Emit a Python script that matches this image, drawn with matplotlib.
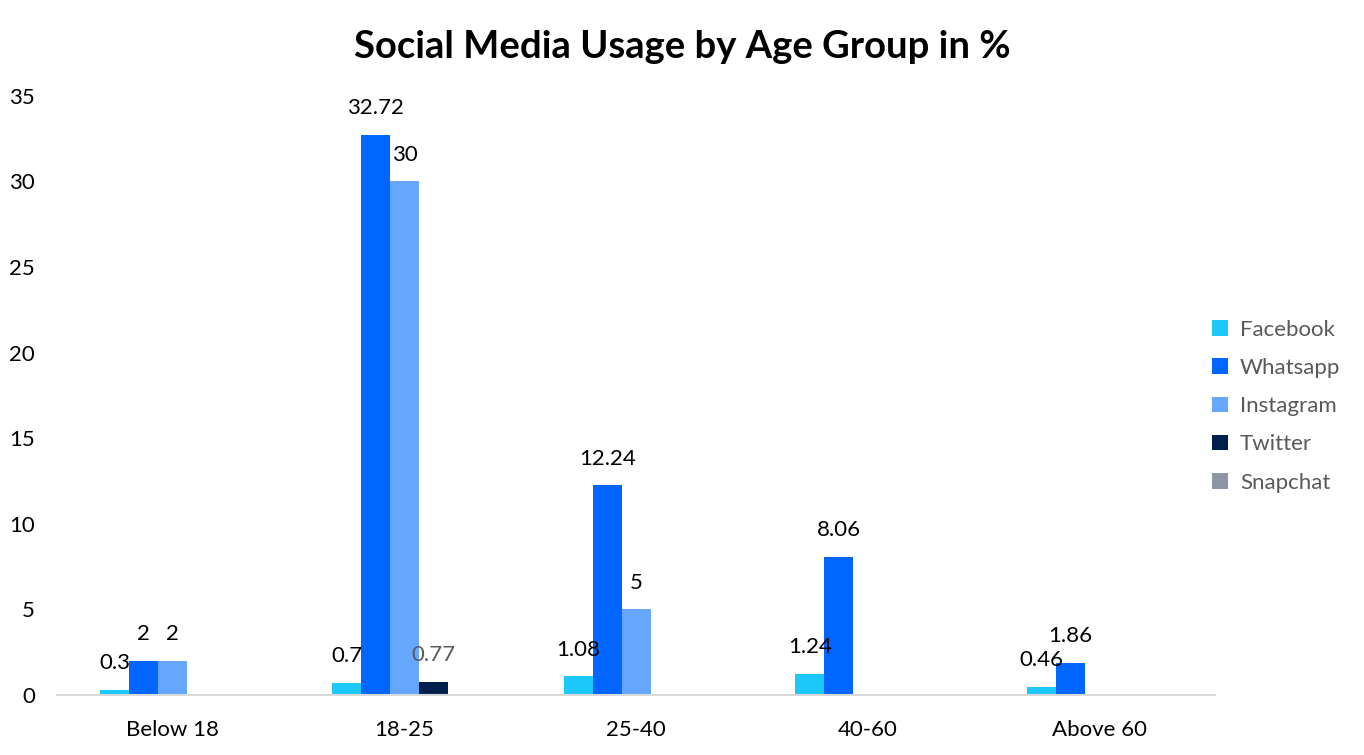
import matplotlib
matplotlib.use("Agg")
import matplotlib.pyplot as plt
import numpy as np

categories = ["Below 18", "18-25", "25-40", "40-60", "Above 60"]
series = ["Facebook", "Whatsapp", "Instagram", "Twitter", "Snapchat"]
facebook = [0.3, 0.7, 1.08, 1.24, 0.46]
whatsapp = [2, 32.72, 12.24, 8.06, 1.86]
instagram = [2, 30, 5, 0, 0]
twitter = [0, 0.77, 0, 0, 0]
snapchat = [0, 0, 0, 0, 0]
values = [facebook, whatsapp, instagram, twitter, snapchat]
colors = ["#1cc7fa", "#0066ff", "#66a6ff", "#001f4d", "#8f96a3"]
label_colors = ["#000000", "#000000", "#000000", "#595959", "#595959"]

plt.rcParams['font.family'] = ['Lato', 'DejaVu Sans']

fig = plt.figure(figsize=(13.64, 7.55), dpi=100)
ax = fig.add_axes([0.0418, 0.0795, 0.891 - 0.0418, 0.873 - 0.0795])

x = np.arange(len(categories))
w = 0.125
for i, (name, vals) in enumerate(zip(series, values)):
    pos = x + (i - 2) * w
    ax.bar(pos, vals, width=w, color=colors[i], label=name)
    for p, v in zip(pos, vals):
        if v != 0:
            ax.annotate(f"{v:g}", (p, v), xytext=(0, 12), textcoords="offset points",
                        ha="center", va="bottom", fontsize=16, color=label_colors[i])

ax.set_xlim(-0.5, 4.5)
ax.set_ylim(0, 35)
ax.set_yticks(range(0, 36, 5))
ax.set_xticks(x)
ax.set_xticklabels(categories)
ax.tick_params(axis="both", length=0, labelsize=16)
ax.tick_params(axis="y", pad=16)
ax.tick_params(axis="x", pad=18)
for s in ["top", "right", "left"]:
    ax.spines[s].set_visible(False)
ax.spines["bottom"].set_color("#d9d9d9")
ax.spines["bottom"].set_linewidth(1.5)

fig.suptitle("Social Media Usage by Age Group in %", fontsize=27.5, fontweight="bold", y=0.96)

leg = fig.legend(loc="center left", bbox_to_anchor=(0.874, 0.462), frameon=False,
                 fontsize=16, handlelength=0.7, handleheight=0.7, labelspacing=0.82,
                 handletextpad=0.55)
for t in leg.get_texts():
    t.set_color("#595959")

fig.savefig("out.png", dpi=100)
